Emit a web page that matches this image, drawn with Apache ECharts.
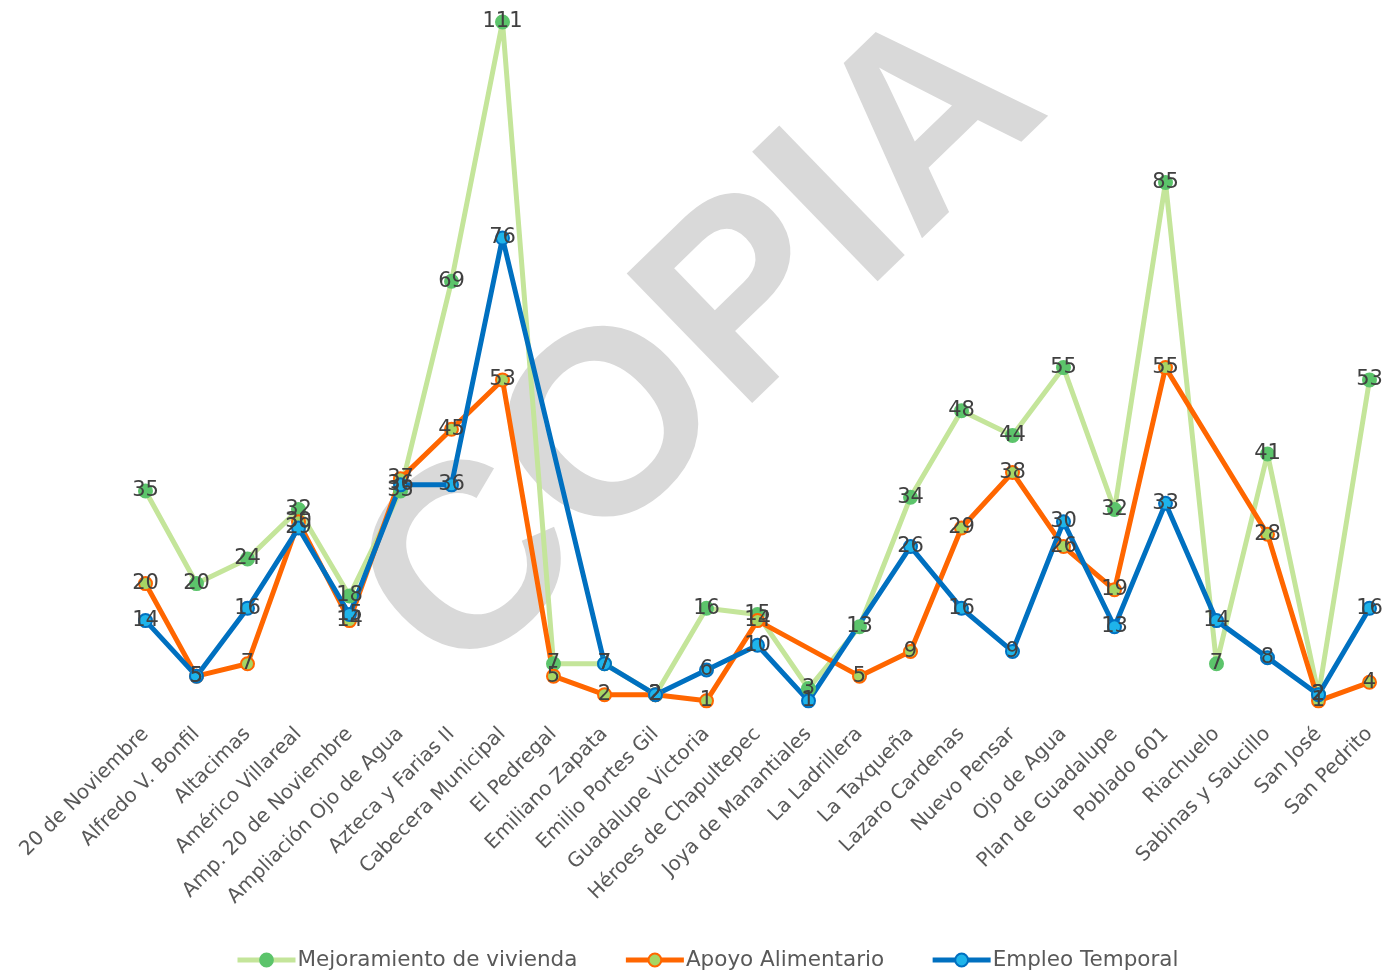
<!DOCTYPE html>
<html>
<head>
<meta charset="utf-8">
<script src="https://cdn.jsdelivr.net/npm/echarts@6/dist/echarts.min.js"></script>
<style>html,body{margin:0;padding:0;background:#fff}#c{width:1396px;height:977px}</style>
</head>
<body>
<div id="c"></div>
<script>
const categories = ["20 de Noviembre","Alfredo V. Bonfil","Altacimas","Américo Villareal","Amp. 20 de Noviembre","Ampliación Ojo de Agua","Azteca y Farias II","Cabecera Municipal","El Pedregal","Emiliano Zapata","Emilio Portes Gil","Guadalupe Victoria","Héroes de Chapultepec","Joya de Manantiales","La Ladrillera","La Taxqueña","Lazaro Cardenas","Nuevo Pensar","Ojo de Agua","Plan de Guadalupe","Poblado 601","Riachuelo","Sabinas y Saucillo","San José","San Pedrito"];
const mejoramiento = [35,20,24,32,18,35,69,111,7,7,2,16,15,3,13,34,48,44,55,32,85,7,41,2,53];
const apoyo = [20,5,7,30,14,37,45,53,5,2,2,1,14,null,5,9,29,38,26,19,55,null,28,1,4];
const empleo = [14,5,16,29,15,36,36,76,null,7,2,6,10,1,null,26,16,9,30,13,33,14,8,2,16];
const seriesNames = ["Mejoramiento de vivienda","Apoyo Alimentario","Empleo Temporal"];

const chart = echarts.init(document.getElementById('c'), null, {renderer:'canvas'});
const labelStyle = {show:true, position:'inside', color:'#404040', fontSize:21, fontFamily:'DejaVu Sans'};
function mk(name, data, lineColor, fill, border){
  return {
    name, type:'line', data, connectNulls:true,
    symbol:'circle', symbolSize:13, showAllSymbol:true,
    lineStyle:{color:lineColor, width:5},
    itemStyle:{color:fill, borderColor:border, borderWidth:2},
    label:labelStyle,
    emphasis:{disabled:true}
  };
}
chart.setOption({
  animation:false,
  backgroundColor:'#fff',
  graphic:[{
    type:'text', z:0, x:705, y:348, rotation:0.77,
    style:{text:'COPIA', font:'bold 262px "Liberation Sans"', fill:'#d9d9d9', align:'center', verticalAlign:'middle'}
  }],
  grid:{left:120, right:1, top:22, bottom:270, containLabel:false},
  legend:{
    bottom:1, left:230, itemWidth:58, itemHeight:16, itemGap:46,
    lineStyle:{width:5},
    textStyle:{color:'#595959', fontSize:21.5, fontFamily:'DejaVu Sans', padding:[0,0,0,-3]},
    data:seriesNames
  },
  xAxis:{
    type:'category', data:categories, boundaryGap:true,
    axisLine:{show:false}, axisTick:{show:false},
    axisLabel:{rotate:45, interval:0, color:'#595959', fontSize:20, fontFamily:'DejaVu Sans', margin:24}
  },
  yAxis:{type:'value', min:0, max:111, show:false, splitLine:{show:false}},
  series:[
    mk(seriesNames[0], mejoramiento, '#c4e59a', '#5cc46b', '#5cc46b'),
    mk(seriesNames[1], apoyo, '#ff6600', '#a6d664', '#ff6600'),
    mk(seriesNames[2], empleo, '#0070c0', '#1eb4ea', '#0070c0')
  ]
});
</script>
</body>
</html>
